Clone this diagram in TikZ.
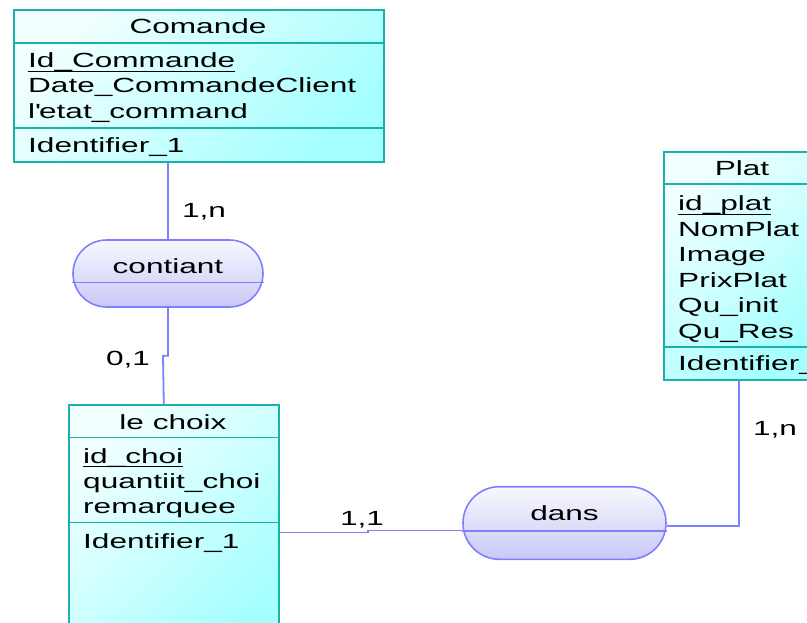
\documentclass[tikz,border=0pt]{standalone}
\usepackage{fontspec}
\newfontfamily\erfont[FakeStretch=1.54]{Liberation Sans}
\usetikzlibrary{shapes.misc,positioning}
\definecolor{entborder}{RGB}{25,178,170}
\definecolor{entlight}{RGB}{242,255,255}
\definecolor{entdark}{RGB}{165,255,255}
\definecolor{relborder}{RGB}{128,128,255}
\definecolor{rellight}{RGB}{248,248,255}
\definecolor{reldark}{RGB}{200,200,246}
\newcommand\pk[1]{\setbox0\hbox{#1}\rlap{\rule[-4.3pt]{\wd0}{1.2pt}}\box0}

\begin{document}
\begin{tikzpicture}[x=1pt,y=-1pt,
    entity/.style={draw=entborder,line width=1.6pt,top color=entlight,bottom color=entdark,shading angle=45,inner sep=0pt,anchor=north west},
    entline/.style={draw=entborder,line width=1.6pt},
    relation/.style={rounded rectangle,draw=relborder,line width=1.6pt,top color=rellight,bottom color=reldark,inner sep=0pt},
    link/.style={draw=relborder,line width=1.8pt},
    attr/.style={anchor=base west,inner sep=0pt,font=\erfont\fontsize{20.5}{25}\selectfont},
    title/.style={attr,anchor=base}]
  \useasboundingbox (0,0) rectangle (807,623);
  \clip (0,0) rectangle (807,623);

  % entities
  \node[entity,minimum width=370pt,minimum height=152pt] (comande) at (13,9) {};
  \node[entity,minimum width=210pt,minimum height=250pt] (lechoix) at (68,404) {};
  \node[entity,minimum width=158pt,minimum height=228pt] (plat) at (663,151) {};
  \foreach \e/\d in {comande/34,comande/119,lechoix/33.5,lechoix/118.5,plat/33,plat/196}
    \draw[entline] ([yshift=-\d pt]\e.north west) -- ([yshift=-\d pt]\e.north east);

  \node[title] (comande-t) at (198,34) {Comande};
  \foreach \t [count=\i] in {\pk{Id\_Commande},Date\_CommandeClient,l\textquotesingle etat\_command}
    \node[attr] (comande-\i) at (28,42+25.5*\i) {\t};
  \node[attr] (comande-id) at (28,153) {Identifier\_1};

  \node[title] (lechoix-t) at (173,429) {le choix};
  \foreach \t [count=\i] in {\pk{id\_choi},quantiit\_choi,remarquee}
    \node[attr] (lechoix-\i) at (83,438+25*\i) {\t};
  \node[attr] (lechoix-id) at (83,548) {Identifier\_1};

  \node[title] (plat-t) at (742,176) {Plat};
  \foreach \t [count=\i] in {\pk{id\_plat},NomPlat,Image,PrixPlat,Qu\_init,Qu\_Res}
    \node[attr] (plat-\i) at (678,185.2+25.5*\i) {\t};
  \node[attr] (plat-id) at (678,370) {Identifier\_1};

  % relations
  \node[relation,minimum width=190pt,minimum height=67pt] (contiant) at (168,273.5) {};
  \node[relation,minimum width=203pt,minimum height=72.6pt] (dans) at (564.5,523) {};
  \draw[link] ([yshift=-9pt]contiant.west) -- ([yshift=-9pt]contiant.east);
  \draw[link] ([yshift=-7.7pt]dans.west) -- ([yshift=-7.7pt]dans.east);
  \node[title] (contiant-t) at (168,273) {contiant};
  \node[title] (dans-t) at (564.5,520) {dans};

  % links
  \draw[link] (contiant.north) -- (contiant.north |- comande.south);
  \draw[link] (contiant.south) -- ++(0,48) -- ++(-5,0) -- ([xshift=-10pt]lechoix.north);
  \draw[link] ([yshift=-128.5pt]lechoix.north east) -- ++(88,0) -- ++(0,-2) -- ([yshift=-7.5pt]dans.west);
  \draw[link] ([yshift=-3pt]dans.east) -| ([xshift=-4pt]plat.south);

  \node[title] (card-comande) at (204,218) {1,n};
  \node[title] (card-lechoix) at (128,365) {0,1};
  \node[title] (card-dans) at (362,525) {1,1};
  \node[title] (card-plat) at (775,435) {1,n};
\end{tikzpicture}
\end{document}
